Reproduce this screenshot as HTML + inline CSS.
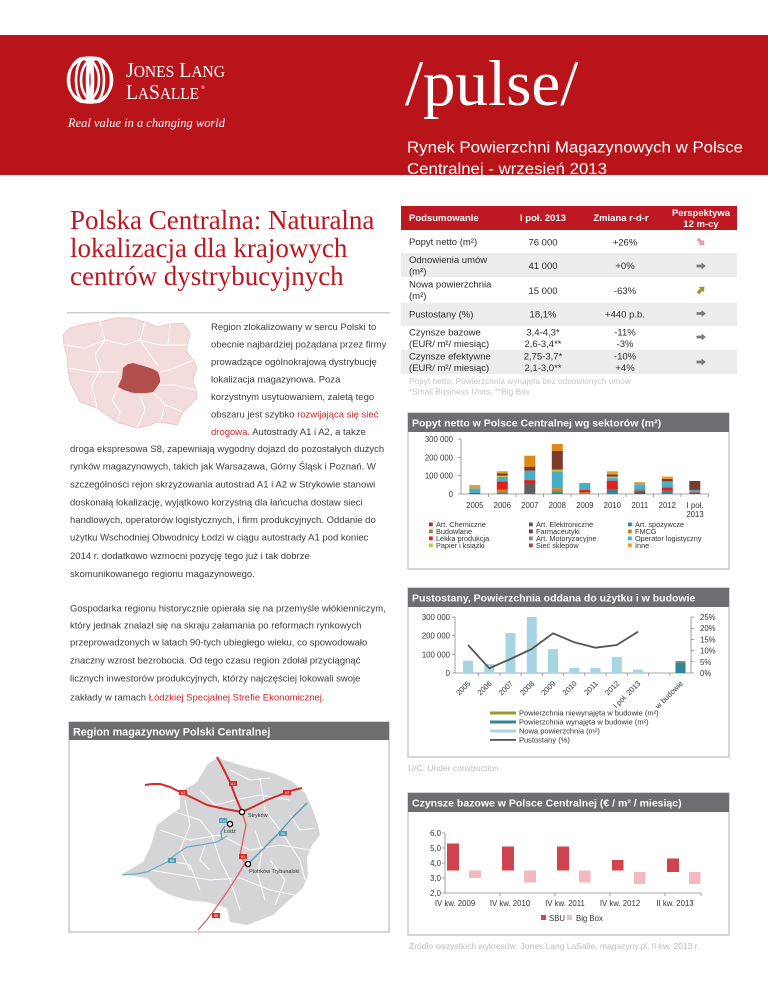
<!DOCTYPE html>
<html><head><meta charset="utf-8"><style>
html,body{margin:0;padding:0;background:#fff;}
body{width:768px;height:994px;overflow:hidden;}
svg{display:block;}
</style></head><body>
<svg width="768" height="994" viewBox="0 0 768 994" xmlns="http://www.w3.org/2000/svg" font-family="'Liberation Sans', Arial, sans-serif">
<rect x="0" y="0" width="768" height="994" fill="#fff"/>

<!-- HEADER BAND -->
<rect x="0" y="35" width="768" height="140" fill="#ba141b"/>
<!-- JLL logo -->
<g fill="none" stroke="#fff" stroke-width="2.6">
  <ellipse cx="90" cy="80" rx="22" ry="22.5"/>
  <ellipse cx="84" cy="80" rx="15" ry="22"/>
  <ellipse cx="96" cy="80" rx="15" ry="22"/>
  <ellipse cx="84" cy="80" rx="8" ry="21"/>
  <ellipse cx="96" cy="80" rx="8" ry="21"/>
  <ellipse cx="90" cy="80" rx="3" ry="20"/>
</g>
<text x="126" y="77" fill="#fff" font-family="'Liberation Serif', serif" font-size="21" textLength="99" lengthAdjust="spacingAndGlyphs">J<tspan font-size="16.5">ONES</tspan> L<tspan font-size="16.5">ANG</tspan></text>
<text x="126" y="99" fill="#fff" font-family="'Liberation Serif', serif" font-size="21" textLength="73" lengthAdjust="spacingAndGlyphs">L<tspan font-size="16.5">A</tspan>S<tspan font-size="16.5">ALLE</tspan></text>
<text x="201" y="89" fill="#fff" font-family="'Liberation Serif', serif" font-size="5">®</text>
<text x="68" y="127" fill="#fff" font-family="'Liberation Serif', serif" font-style="italic" font-size="12.5" textLength="157" lengthAdjust="spacingAndGlyphs">Real value in a changing world</text>

<text x="405" y="105" fill="#fff" font-family="'Liberation Serif', serif" font-size="65">/pulse/</text>
<text x="407" y="152.5" fill="#fff" font-size="15.5" textLength="336" lengthAdjust="spacingAndGlyphs">Rynek Powierzchni Magazynowych w Polsce</text>
<text x="407" y="174" fill="#fff" font-size="15.5" textLength="200" lengthAdjust="spacingAndGlyphs">Centralnej - wrzesień 2013</text>

<!-- TITLE -->
<g fill="#c0161e" font-family="'Liberation Serif', serif" font-size="27">
  <text x="70" y="229">Polska Centralna: Naturalna</text>
  <text x="70" y="257">lokalizacja dla krajowych</text>
  <text x="70" y="285">centrów dystrybucyjnych</text>
</g>
<rect x="67" y="312" width="323" height="1.5" fill="#cccccc"/>

<!-- Mini Poland map -->
<polygon points="70,328 85,324 100,322 115,318 130,318 145,322 157,327 170,324 183,323 188,330 190,335 187,345 187,352 193,360 197,368 194,375 193,382 196,390 197,398 190,405 183,412 180,418 177,425 167,423 157,422 147,426 137,428 127,425 117,422 107,415 97,408 88,405 80,402 75,392 70,382 68,368 67,355 64,345 63,335" fill="#f3dcdc" stroke="#ecc9c9" stroke-width="1"/>
<g fill="none" stroke="#fff" stroke-width="0.9">
  <polyline points="100,322 105,340 95,355 100,370 92,385 97,408"/>
  <polyline points="145,322 140,340 150,355 158,365"/>
  <polyline points="64,345 85,348 105,340 125,345 140,340 160,345 187,345"/>
  <polyline points="68,368 92,372 118,372"/>
  <polyline points="160,372 175,368 193,360"/>
  <polyline points="158,385 175,385 196,390"/>
  <polyline points="118,388 112,400 120,412 117,422"/>
  <polyline points="140,395 145,410 137,428"/>
  <polyline points="153,392 165,405 160,422"/>
  <polyline points="165,405 183,412"/>
  <polyline points="170,324 168,345"/>
</g>
<polygon points="123,368 128,364 133,363 140,365 147,367 153,369 158,372 160,378 160,382 157,387 153,392 147,393 140,393 134,393 130,392 124,390 118,387 120,382 122,378" fill="#b24f4d"/>

<!-- PARAGRAPHS -->
<g fill="#3c3c3c" font-size="9.5">
  <text x="211" y="330">Region zlokalizowany w sercu Polski to</text>
  <text x="211" y="347.5">obecnie najbardziej pożądana przez firmy</text>
  <text x="211" y="365">prowadzące ogólnokrajową dystrybucję</text>
  <text x="211" y="382.5">lokalizacja magazynowa. Poza</text>
  <text x="211" y="400">korzystnym usytuowaniem, zaletą tego</text>
  <text x="211" y="417.5">obszaru jest szybko <tspan fill="#d2232a">rozwijająca się sieć</tspan></text>
  <text x="211" y="435"><tspan fill="#d2232a">drogowa.</tspan> Autostrady A1 i A2, a także</text>
  <text x="70" y="452">droga ekspresowa S8, zapewniają wygodny dojazd do pozostałych dużych</text>
  <text x="70" y="469.7">rynków magazynowych, takich jak Warsazawa, Górny Śląsk i Poznań. W</text>
  <text x="70" y="487.3">szczególności rejon skrzyżowania autostrad A1 i A2  w Strykowie stanowi</text>
  <text x="70" y="505.3">doskonałą lokalizację, wyjątkowo korzystną dla łańcucha dostaw sieci</text>
  <text x="70" y="523">handlowych, operatorów logistycznych, i firm produkcyjnych. Oddanie do</text>
  <text x="70" y="540.7">użytku Wschodniej Obwodnicy Łodzi w ciągu autostrady A1 pod koniec</text>
  <text x="70" y="559">2014 r. dodatkowo wzmocni pozycję tego już i tak dobrze</text>
  <text x="70" y="577">skomunikowanego regionu magazynowego.</text>
  <text x="70" y="611.3">Gospodarka regionu historycznie opierała się na przemyśle włókienniczym,</text>
  <text x="70" y="628.7">który jednak znalazł się na skraju załamania po reformach rynkowych</text>
  <text x="70" y="645.7">przeprowadzonych w latach 90-tych ubiegłego wieku, co spowodowało</text>
  <text x="70" y="663.7">znaczny wzrost bezrobocia. Od tego czasu region zdołał przyciągnąć</text>
  <text x="70" y="681.7">licznych inwestorów produkcyjnych, którzy najczęściej lokowali swoje</text>
  <text x="70" y="700.3">zakłady w ramach <tspan fill="#d2232a">Łódzkiej Specjalnej Strefie Ekonomicznej.</tspan></text>
</g>

<!-- MAP PANEL -->
<rect x="69" y="722" width="320" height="210" fill="#fff" stroke="#c8c8c8" stroke-width="1.5"/>
<rect x="69" y="722" width="320" height="18" fill="#6d6e71"/>
<text x="73" y="735.5" fill="#fff" font-weight="bold" font-size="10.8">Region magazynowy Polski Centralnej</text>
<polygon points="217,758 247,767 273,773 293,782 305,793 312,808 317,822 320,835 312,845 307,858 308,875 303,888 287,902 273,915 260,920 247,925 230,922 227,908 207,902 187,900 170,895 157,888 147,878 122,874 143,862 150,848 157,825 170,815 180,808 180,792 197,782 207,765" fill="#d5d5d7"/>
<g fill="none" stroke="#fff" stroke-width="1.1" opacity="0.9">
  <polyline points="160,830 190,840 220,835 250,850 280,845 310,850"/>
  <polyline points="175,812 200,820 212,835 220,860 230,880 240,910"/>
  <polyline points="260,778 265,810 280,830 300,860 305,880"/>
  <polyline points="150,870 180,875 210,880 240,878 270,890 295,895"/>
  <polyline points="200,790 215,805 235,800 260,795 290,800"/>
  <polyline points="165,860 190,865 200,890"/>
  <polyline points="270,860 285,880 275,905"/>
  <polyline points="185,800 190,825 180,850 190,870"/>
  <polyline points="255,830 262,850 258,875 265,900"/>
  <polyline points="290,815 300,830 315,828"/>
  <polyline points="230,770 250,780 270,778"/>
  <polyline points="205,845 200,860 210,870"/>
</g>
<g fill="none" stroke-linejoin="round">
  <polyline points="217,757 223,768 230,782 236,798 242,812" stroke="#d42a2a" stroke-width="2"/>
  <polyline points="145,785 152,784 160,784 170,787 180,792 195,799 207,805 225,809 242,812" stroke="#d42a2a" stroke-width="2"/>
  <polyline points="242,812 255,806 267,800 280,795 290,791 302,788" stroke="#d42a2a" stroke-width="2"/>
  <polyline points="242,812 246,825 243,840 240,855 245,863 238,875 227,892 220,902 213,912 205,922 198,930" stroke="#e06060" stroke-width="1.3"/>
  <polyline points="248,864 262,850 277,835 292,818 307,803" stroke="#4d9cb4" stroke-width="1.3"/>
  <polyline points="227,836 217,842 200,845 187,847 175,855 167,862 155,868 147,872 135,874 122,875" stroke="#6aaec2" stroke-width="1.2"/>
  <polyline points="225,826 221,832 222,840" stroke="#4d9cb4" stroke-width="1.2"/>
</g>
<g font-size="3.5" fill="#fff" text-anchor="middle">
  <rect x="229" y="781" width="8" height="5" fill="#d42a2a"/><text x="233" y="785">A1</text>
  <rect x="179" y="790" width="8" height="5" fill="#d42a2a"/><text x="183" y="794">A2</text>
  <rect x="283" y="790" width="8" height="5" fill="#d42a2a"/><text x="287" y="794">A2</text>
  <rect x="239" y="854" width="8" height="5" fill="#d42a2a"/><text x="243" y="858">A1</text>
  <rect x="212" y="913" width="8" height="5" fill="#d42a2a"/><text x="216" y="917">S8</text>
  <rect x="219" y="818" width="8" height="5" fill="#4d9cb4"/><text x="223" y="822">S14</text>
  <rect x="279" y="831" width="8" height="5" fill="#4d9cb4"/><text x="283" y="835">S8</text>
  <rect x="168" y="858" width="8" height="5" fill="#4d9cb4"/><text x="172" y="862">S8</text>
</g>
<g fill="#fff" stroke="#111" stroke-width="1.4">
  <circle cx="242" cy="812" r="2.6"/>
  <circle cx="230" cy="824" r="2.6"/>
  <circle cx="248" cy="864" r="2.6"/>
</g>
<g font-size="5.5" fill="#333">
  <text x="248" y="817">Stryków</text>
  <text x="224" y="833">Łódź</text>
  <text x="249" y="873">Piotrków Trybunalski</text>
</g>

<!-- TABLE -->
<rect x="401" y="206" width="336" height="24" fill="#be1823"/>
<g fill="#fff" font-weight="bold" font-size="9.5">
  <text x="409" y="221">Podsumowanie</text>
  <text x="543" y="221" text-anchor="middle">I poł. 2013</text>
  <text x="621" y="221" text-anchor="middle">Zmiana r-d-r</text>
  <text x="701" y="216" text-anchor="middle">Perspektywa</text>
  <text x="701" y="227" text-anchor="middle">12 m-cy</text>
</g>
<rect x="401" y="253" width="336" height="24" fill="#ececec"/>
<rect x="401" y="303" width="336" height="23" fill="#ececec"/>
<rect x="401" y="350" width="336" height="24" fill="#ececec"/>
<g fill="#2a2a2a" font-size="9.5">
  <text x="409" y="245">Popyt netto (m²)</text>
  <text x="543" y="245.5" text-anchor="middle">76 000</text>
  <text x="625" y="245.5" text-anchor="middle">+26%</text>
  <text x="409" y="263">Odnowienia umów</text>
  <text x="409" y="274.5">(m²)</text>
  <text x="543" y="269" text-anchor="middle">41 000</text>
  <text x="625" y="269" text-anchor="middle">+0%</text>
  <text x="409" y="287.5">Nowa powierzchnia</text>
  <text x="409" y="299">(m²)</text>
  <text x="543" y="294" text-anchor="middle">15 000</text>
  <text x="625" y="294" text-anchor="middle">-63%</text>
  <text x="409" y="317.5">Pustostany (%)</text>
  <text x="543" y="317.5" text-anchor="middle">18,1%</text>
  <text x="625" y="317.5" text-anchor="middle">+440 p.b.</text>
  <text x="409" y="335.5">Czynsze bazowe</text>
  <text x="409" y="347">(EUR/ m²/ miesiąc)</text>
  <text x="543" y="335.5" text-anchor="middle">3,4-4,3*</text>
  <text x="543" y="347" text-anchor="middle">2,6-3,4**</text>
  <text x="625" y="335.5" text-anchor="middle">-11%</text>
  <text x="625" y="347" text-anchor="middle">-3%</text>
  <text x="409" y="359.5">Czynsze efektywne</text>
  <text x="409" y="371">(EUR/ m²/ miesiąc)</text>
  <text x="543" y="359.5" text-anchor="middle">2,75-3,7*</text>
  <text x="543" y="371" text-anchor="middle">2,1-3,0**</text>
  <text x="625" y="359.5" text-anchor="middle">-10%</text>
  <text x="625" y="371" text-anchor="middle">+4%</text>
</g>
<g fill="#c4c4c4" font-size="8.3">
  <text x="409" y="384">Popyt netto: Powierzchnia wynajęta bez odnowionych umów</text>
  <text x="409" y="394.5">*Small Business Units, **Big Box</text>
</g>
<!-- arrows -->
<g>
  <polygon transform="translate(701,242) rotate(45)" points="-4.5,-1.6 0.5,-1.6 0.5,-3.8 4.8,0 0.5,3.8 0.5,1.6 -4.5,1.6" fill="#e79aa3"/>
  <polygon transform="translate(701,266)" points="-4.5,-1.4 0.5,-1.4 0.5,-3.5 4.8,0 0.5,3.5 0.5,1.4 -4.5,1.4" fill="#7a7a7a"/>
  <polygon transform="translate(701,290) rotate(-45)" points="-4.5,-1.6 0.5,-1.6 0.5,-3.8 4.8,0 0.5,3.8 0.5,1.6 -4.5,1.6" fill="#9c9a2e"/>
  <polygon transform="translate(701,313.5)" points="-4.5,-1.4 0.5,-1.4 0.5,-3.5 4.8,0 0.5,3.5 0.5,1.4 -4.5,1.4" fill="#7a7a7a"/>
  <polygon transform="translate(701,337)" points="-4.5,-1.4 0.5,-1.4 0.5,-3.5 4.8,0 0.5,3.5 0.5,1.4 -4.5,1.4" fill="#7a7a7a"/>
  <polygon transform="translate(701,362)" points="-4.5,-1.4 0.5,-1.4 0.5,-3.5 4.8,0 0.5,3.5 0.5,1.4 -4.5,1.4" fill="#7a7a7a"/>
</g>

<!-- CHART 1 -->
<rect x="408" y="413" width="321" height="156" fill="#fff" stroke="#c8c8c8" stroke-width="1.5"/>
<rect x="408" y="413" width="321" height="19" fill="#6d6e71"/>
<text x="412" y="426.5" fill="#fff" font-weight="bold" font-size="10.5">Popyt netto w Polsce Centralnej wg sektorów (m²)</text>
<g fill="#333" font-size="7.8" text-anchor="end">
  <text x="453" y="442">300 000</text>
  <text x="453" y="460.3">200 000</text>
  <text x="453" y="478.7">100 000</text>
  <text x="453" y="497">0</text>
</g>
<g stroke="#8a8a8a" stroke-width="0.8">
  <line x1="461" y1="439" x2="461" y2="494"/>
  <line x1="458" y1="439" x2="461" y2="439"/>
  <line x1="458" y1="457.3" x2="461" y2="457.3"/>
  <line x1="458" y1="475.7" x2="461" y2="475.7"/>
  <line x1="458" y1="494" x2="709" y2="494"/>
  <line x1="488.5" y1="494" x2="488.5" y2="497"/>
  <line x1="516" y1="494" x2="516" y2="497"/>
  <line x1="543.5" y1="494" x2="543.5" y2="497"/>
  <line x1="571" y1="494" x2="571" y2="497"/>
  <line x1="598.5" y1="494" x2="598.5" y2="497"/>
  <line x1="626" y1="494" x2="626" y2="497"/>
  <line x1="653.5" y1="494" x2="653.5" y2="497"/>
  <line x1="681" y1="494" x2="681" y2="497"/>
  <line x1="708.5" y1="494" x2="708.5" y2="497"/>
</g>
<!-- bars -->
<g>
  <rect x="469.3" y="493.08" width="11" height="0.92" fill="#7b3b2b"/>
  <rect x="469.3" y="488.32" width="11" height="4.76" fill="#4bacc6"/>
  <rect x="469.3" y="485.02" width="11" height="3.3" fill="#eb9a2a"/>
  <rect x="496.8" y="492.35" width="11" height="1.65" fill="#31859c"/>
  <rect x="496.8" y="489.6" width="11" height="2.75" fill="#e07b10"/>
  <rect x="496.8" y="481.35" width="11" height="8.25" fill="#e0201b"/>
  <rect x="496.8" y="476.95" width="11" height="4.4" fill="#4bacc6"/>
  <rect x="496.8" y="475.67" width="11" height="1.28" fill="#c5c832"/>
  <rect x="496.8" y="473.29" width="11" height="2.38" fill="#7b3b2b"/>
  <rect x="496.8" y="471.27" width="11" height="2.02" fill="#eb9a2a"/>
  <rect x="524.3" y="483" width="11" height="11" fill="#5e5e5e"/>
  <rect x="524.3" y="480.07" width="11" height="2.93" fill="#e0201b"/>
  <rect x="524.3" y="470.72" width="11" height="9.35" fill="#4bacc6"/>
  <rect x="524.3" y="466.69" width="11" height="4.03" fill="#7b3b2b"/>
  <rect x="524.3" y="455.69" width="11" height="11" fill="#e08a15"/>
  <rect x="551.8" y="491.25" width="11" height="2.75" fill="#31859c"/>
  <rect x="551.8" y="488.32" width="11" height="2.93" fill="#e07b10"/>
  <rect x="551.8" y="471.27" width="11" height="17.05" fill="#4bacc6"/>
  <rect x="551.8" y="469.62" width="11" height="1.65" fill="#c5c832"/>
  <rect x="551.8" y="450.74" width="11" height="18.88" fill="#7b3b2b"/>
  <rect x="551.8" y="443.96" width="11" height="6.78" fill="#e08a15"/>
  <rect x="579.3" y="492.35" width="11" height="1.65" fill="#9b8b2c"/>
  <rect x="579.3" y="489.97" width="11" height="2.38" fill="#e0201b"/>
  <rect x="579.3" y="483" width="11" height="6.97" fill="#4bacc6"/>
  <rect x="606.8" y="489.05" width="11" height="4.95" fill="#31859c"/>
  <rect x="606.8" y="480.62" width="11" height="8.43" fill="#e0201b"/>
  <rect x="606.8" y="478.05" width="11" height="2.57" fill="#4bacc6"/>
  <rect x="606.8" y="476.59" width="11" height="1.46" fill="#c5c832"/>
  <rect x="606.8" y="474.39" width="11" height="2.2" fill="#7b3b2b"/>
  <rect x="606.8" y="471.27" width="11" height="3.12" fill="#eb9a2a"/>
  <rect x="634.3" y="491.25" width="11" height="2.75" fill="#555"/>
  <rect x="634.3" y="489.6" width="11" height="1.65" fill="#8a6a5a"/>
  <rect x="634.3" y="484.29" width="11" height="5.31" fill="#4bacc6"/>
  <rect x="634.3" y="482.09" width="11" height="2.2" fill="#eb9a2a"/>
  <rect x="661.8" y="490.7" width="11" height="3.3" fill="#31859c"/>
  <rect x="661.8" y="487.4" width="11" height="3.3" fill="#e0201b"/>
  <rect x="661.8" y="481.35" width="11" height="6.05" fill="#4bacc6"/>
  <rect x="661.8" y="478.97" width="11" height="2.38" fill="#7b3b2b"/>
  <rect x="661.8" y="476.59" width="11" height="2.38" fill="#eb9a2a"/>
  <rect x="689.3" y="492.35" width="11" height="1.65" fill="#e0201b"/>
  <rect x="689.3" y="489.97" width="11" height="2.38" fill="#4bacc6"/>
  <rect x="689.3" y="480.99" width="11" height="8.98" fill="#7b3b2b"/>
</g>
<g fill="#333" font-size="7.8" text-anchor="middle">
  <text x="474.8" y="508">2005</text>
  <text x="502.3" y="508">2006</text>
  <text x="529.8" y="508">2007</text>
  <text x="557.3" y="508">2008</text>
  <text x="584.8" y="508">2009</text>
  <text x="612.3" y="508">2010</text>
  <text x="639.8" y="508">2011</text>
  <text x="667.3" y="508">2012</text>
  <text x="695" y="508">I poł.</text>
  <text x="695" y="517">2013</text>
</g>
<g font-size="7.3" fill="#333">
  <rect x="429" y="522.5" width="3.8" height="3.8" fill="#c0272d"/><text x="436" y="527">Art. Chemiczne</text>
  <rect x="429" y="529.5" width="3.8" height="3.8" fill="#948a2c"/><text x="436" y="534">Budowlane</text>
  <rect x="429" y="536.5" width="3.8" height="3.8" fill="#e0201b"/><text x="436" y="541">Lekka produkcja</text>
  <rect x="429" y="543.5" width="3.8" height="3.8" fill="#c5c832"/><text x="436" y="548">Papier i książki</text>
  <rect x="529" y="522.5" width="3.8" height="3.8" fill="#555"/><text x="536" y="527">Art. Elektroniczne</text>
  <rect x="529" y="529.5" width="3.8" height="3.8" fill="#7b3b2b"/><text x="536" y="534">Farmaceutyki</text>
  <rect x="529" y="536.5" width="3.8" height="3.8" fill="#888"/><text x="536" y="541">Art. Motoryzacyjne</text>
  <rect x="529" y="543.5" width="3.8" height="3.8" fill="#9e4a3c"/><text x="536" y="548">Sieć sklepów</text>
  <rect x="628" y="522.5" width="3.8" height="3.8" fill="#31859c"/><text x="635" y="527">Art. spożywcze</text>
  <rect x="628" y="529.5" width="3.8" height="3.8" fill="#e07b10"/><text x="635" y="534">FMCG</text>
  <rect x="628" y="536.5" width="3.8" height="3.8" fill="#4bacc6"/><text x="635" y="541">Operator logistyczny</text>
  <rect x="628" y="543.5" width="3.8" height="3.8" fill="#eb9a2a"/><text x="635" y="548">Inne</text>
</g>

<!-- CHART 2 -->
<rect x="408" y="588" width="321" height="169" fill="#fff" stroke="#c8c8c8" stroke-width="1.5"/>
<rect x="408" y="588" width="321" height="19" fill="#6d6e71"/>
<text x="412" y="601.5" fill="#fff" font-weight="bold" font-size="10.5">Pustostany, Powierzchnia oddana do użytku i w budowie</text>
<g fill="#333" font-size="7.8">
  <g text-anchor="end">
    <text x="450" y="620">300 000</text>
    <text x="450" y="638.7">200 000</text>
    <text x="450" y="657.3">100 000</text>
    <text x="450" y="676">0</text>
  </g>
  <text x="700" y="620">25%</text>
  <text x="700" y="631.2">20%</text>
  <text x="700" y="642.4">15%</text>
  <text x="700" y="653.6">10%</text>
  <text x="700" y="664.8">5%</text>
  <text x="700" y="676">0%</text>
</g>
<g stroke="#8a8a8a" stroke-width="0.8">
  <line x1="455" y1="617" x2="455" y2="673"/>
  <line x1="452" y1="617" x2="455" y2="617"/>
  <line x1="452" y1="635.7" x2="455" y2="635.7"/>
  <line x1="452" y1="654.3" x2="455" y2="654.3"/>
  <line x1="452" y1="673" x2="691" y2="673"/>
  <line x1="691" y1="617" x2="691" y2="673"/>
  <line x1="691" y1="617" x2="694" y2="617"/>
  <line x1="691" y1="628.2" x2="694" y2="628.2"/>
  <line x1="691" y1="639.4" x2="694" y2="639.4"/>
  <line x1="691" y1="650.6" x2="694" y2="650.6"/>
  <line x1="691" y1="661.8" x2="694" y2="661.8"/>
  <line x1="691" y1="673" x2="694" y2="673"/>
  <line x1="478.6" y1="673" x2="478.6" y2="676"/>
  <line x1="499.9" y1="673" x2="499.9" y2="676"/>
  <line x1="521.1" y1="673" x2="521.1" y2="676"/>
  <line x1="542.4" y1="673" x2="542.4" y2="676"/>
  <line x1="563.6" y1="673" x2="563.6" y2="676"/>
  <line x1="584.9" y1="673" x2="584.9" y2="676"/>
  <line x1="606.1" y1="673" x2="606.1" y2="676"/>
  <line x1="627.4" y1="673" x2="627.4" y2="676"/>
  <line x1="648.6" y1="673" x2="648.6" y2="676"/>
  <line x1="669.9" y1="673" x2="669.9" y2="676"/>
</g>
<g fill="#a8d5e2">
  <rect x="463" y="660.7" width="10" height="12.3"/>
  <rect x="484.3" y="664" width="10" height="9"/>
  <rect x="505.5" y="633" width="10" height="40"/>
  <rect x="526.8" y="617" width="10" height="56"/>
  <rect x="548" y="649.1" width="10" height="23.9"/>
  <rect x="569.3" y="667.8" width="10" height="5.2"/>
  <rect x="590.5" y="667.8" width="10" height="5.2"/>
  <rect x="611.8" y="656.9" width="10" height="16.1"/>
  <rect x="633" y="669.6" width="10" height="3.4"/>
</g>
<rect x="675.5" y="662.4" width="10" height="10.6" fill="#31859c"/>
<rect x="675.5" y="661" width="10" height="1.4" fill="#9b9b2a"/>
<polyline points="468,645 489.25,668.3 510.5,659 531.75,649 553,633.3 574.25,642.3 595.5,647.7 616.75,645 638,631.7" fill="none" stroke="#555" stroke-width="1.8" stroke-linejoin="round"/>
<g fill="#333" font-size="7.5" text-anchor="end">
  <text transform="translate(471,684) rotate(-45)">2005</text>
  <text transform="translate(492.3,684) rotate(-45)">2006</text>
  <text transform="translate(513.5,684) rotate(-45)">2007</text>
  <text transform="translate(534.8,684) rotate(-45)">2008</text>
  <text transform="translate(556,684) rotate(-45)">2009</text>
  <text transform="translate(577.3,684) rotate(-45)">2010</text>
  <text transform="translate(598.5,684) rotate(-45)">2011</text>
  <text transform="translate(619.8,684) rotate(-45)">2012</text>
  <text transform="translate(641,684) rotate(-45)">I poł. 2013</text>
  <text transform="translate(683.5,684) rotate(-45)">w budowie</text>
</g>
<g font-size="7.5" fill="#333">
  <rect x="490" y="711.5" width="26" height="3" fill="#9b9b2a"/><text x="519" y="715.5">Powierzchnia niewynajęta w budowie (m²)</text>
  <rect x="490" y="720.5" width="26" height="3" fill="#31859c"/><text x="519" y="724.5">Powierzchnia wynajęta w budowie (m²)</text>
  <rect x="490" y="729.5" width="26" height="3" fill="#a8d5e2"/><text x="519" y="733.5">Nowa powierzchnia (m²)</text>
  <rect x="490" y="739" width="26" height="1.8" fill="#555"/><text x="519" y="742.5">Pustostany (%)</text>
</g>
<text x="408" y="771" fill="#bdbdbd" font-size="8.5">U/C: Under construction</text>

<!-- CHART 3 -->
<rect x="408" y="793" width="321" height="142" fill="#fff" stroke="#c8c8c8" stroke-width="1.5"/>
<rect x="408" y="793" width="321" height="19" fill="#6d6e71"/>
<text x="412" y="806.5" fill="#fff" font-weight="bold" font-size="10.5">Czynsze bazowe w Polsce Centralnej (€ / m² / miesiąc)</text>
<g fill="#333" font-size="7.8" text-anchor="end">
  <text x="441" y="836">6,0</text>
  <text x="441" y="851">5,0</text>
  <text x="441" y="866">4,0</text>
  <text x="441" y="881">3,0</text>
  <text x="441" y="896">2,0</text>
</g>
<g stroke="#8a8a8a" stroke-width="0.8">
  <line x1="445" y1="833" x2="445" y2="893"/>
  <line x1="442" y1="833" x2="445" y2="833"/>
  <line x1="442" y1="848" x2="445" y2="848"/>
  <line x1="442" y1="863" x2="445" y2="863"/>
  <line x1="442" y1="878" x2="445" y2="878"/>
  <line x1="442" y1="893" x2="701" y2="893"/>
  <line x1="500" y1="893" x2="500" y2="896"/>
  <line x1="555" y1="893" x2="555" y2="896"/>
  <line x1="610" y1="893" x2="610" y2="896"/>
  <line x1="665" y1="893" x2="665" y2="896"/>
  <line x1="701" y1="893" x2="701" y2="896"/>
</g>
<g fill="#d0444f">
  <rect x="447" y="843.5" width="12" height="27"/>
  <rect x="502" y="846.5" width="12" height="24"/>
  <rect x="557" y="846.5" width="12" height="24"/>
  <rect x="612" y="860" width="11.5" height="10.5"/>
  <rect x="667" y="858.5" width="12" height="13.5"/>
</g>
<g fill="#f3b9c0">
  <rect x="469" y="870.5" width="12" height="7.5"/>
  <rect x="524" y="870.5" width="12" height="12"/>
  <rect x="579" y="870.5" width="11.5" height="12"/>
  <rect x="634" y="872" width="11.5" height="12"/>
  <rect x="689" y="872" width="11.5" height="12"/>
</g>
<g fill="#333" font-size="7.8" text-anchor="middle">
  <text x="455" y="906">IV kw. 2009</text>
  <text x="510" y="906">IV kw. 2010</text>
  <text x="565" y="906">IV kw. 2011</text>
  <text x="620" y="906">IV kw. 2012</text>
  <text x="675" y="906">II kw. 2013</text>
</g>
<rect x="541" y="915" width="5" height="5" fill="#d0444f"/>
<text x="549" y="921" fill="#333" font-size="7.8">SBU</text>
<rect x="567" y="915" width="5" height="5" fill="#f3b9c0"/>
<text x="576" y="921" fill="#333" font-size="7.8">Big Box</text>
<text x="409" y="949" fill="#bdbdbd" font-size="8.5">Źródło wszystkich wykresów: Jones Lang LaSalle, magazyny.pl, II kw. 2013 r.</text>
</svg>
</body></html>
